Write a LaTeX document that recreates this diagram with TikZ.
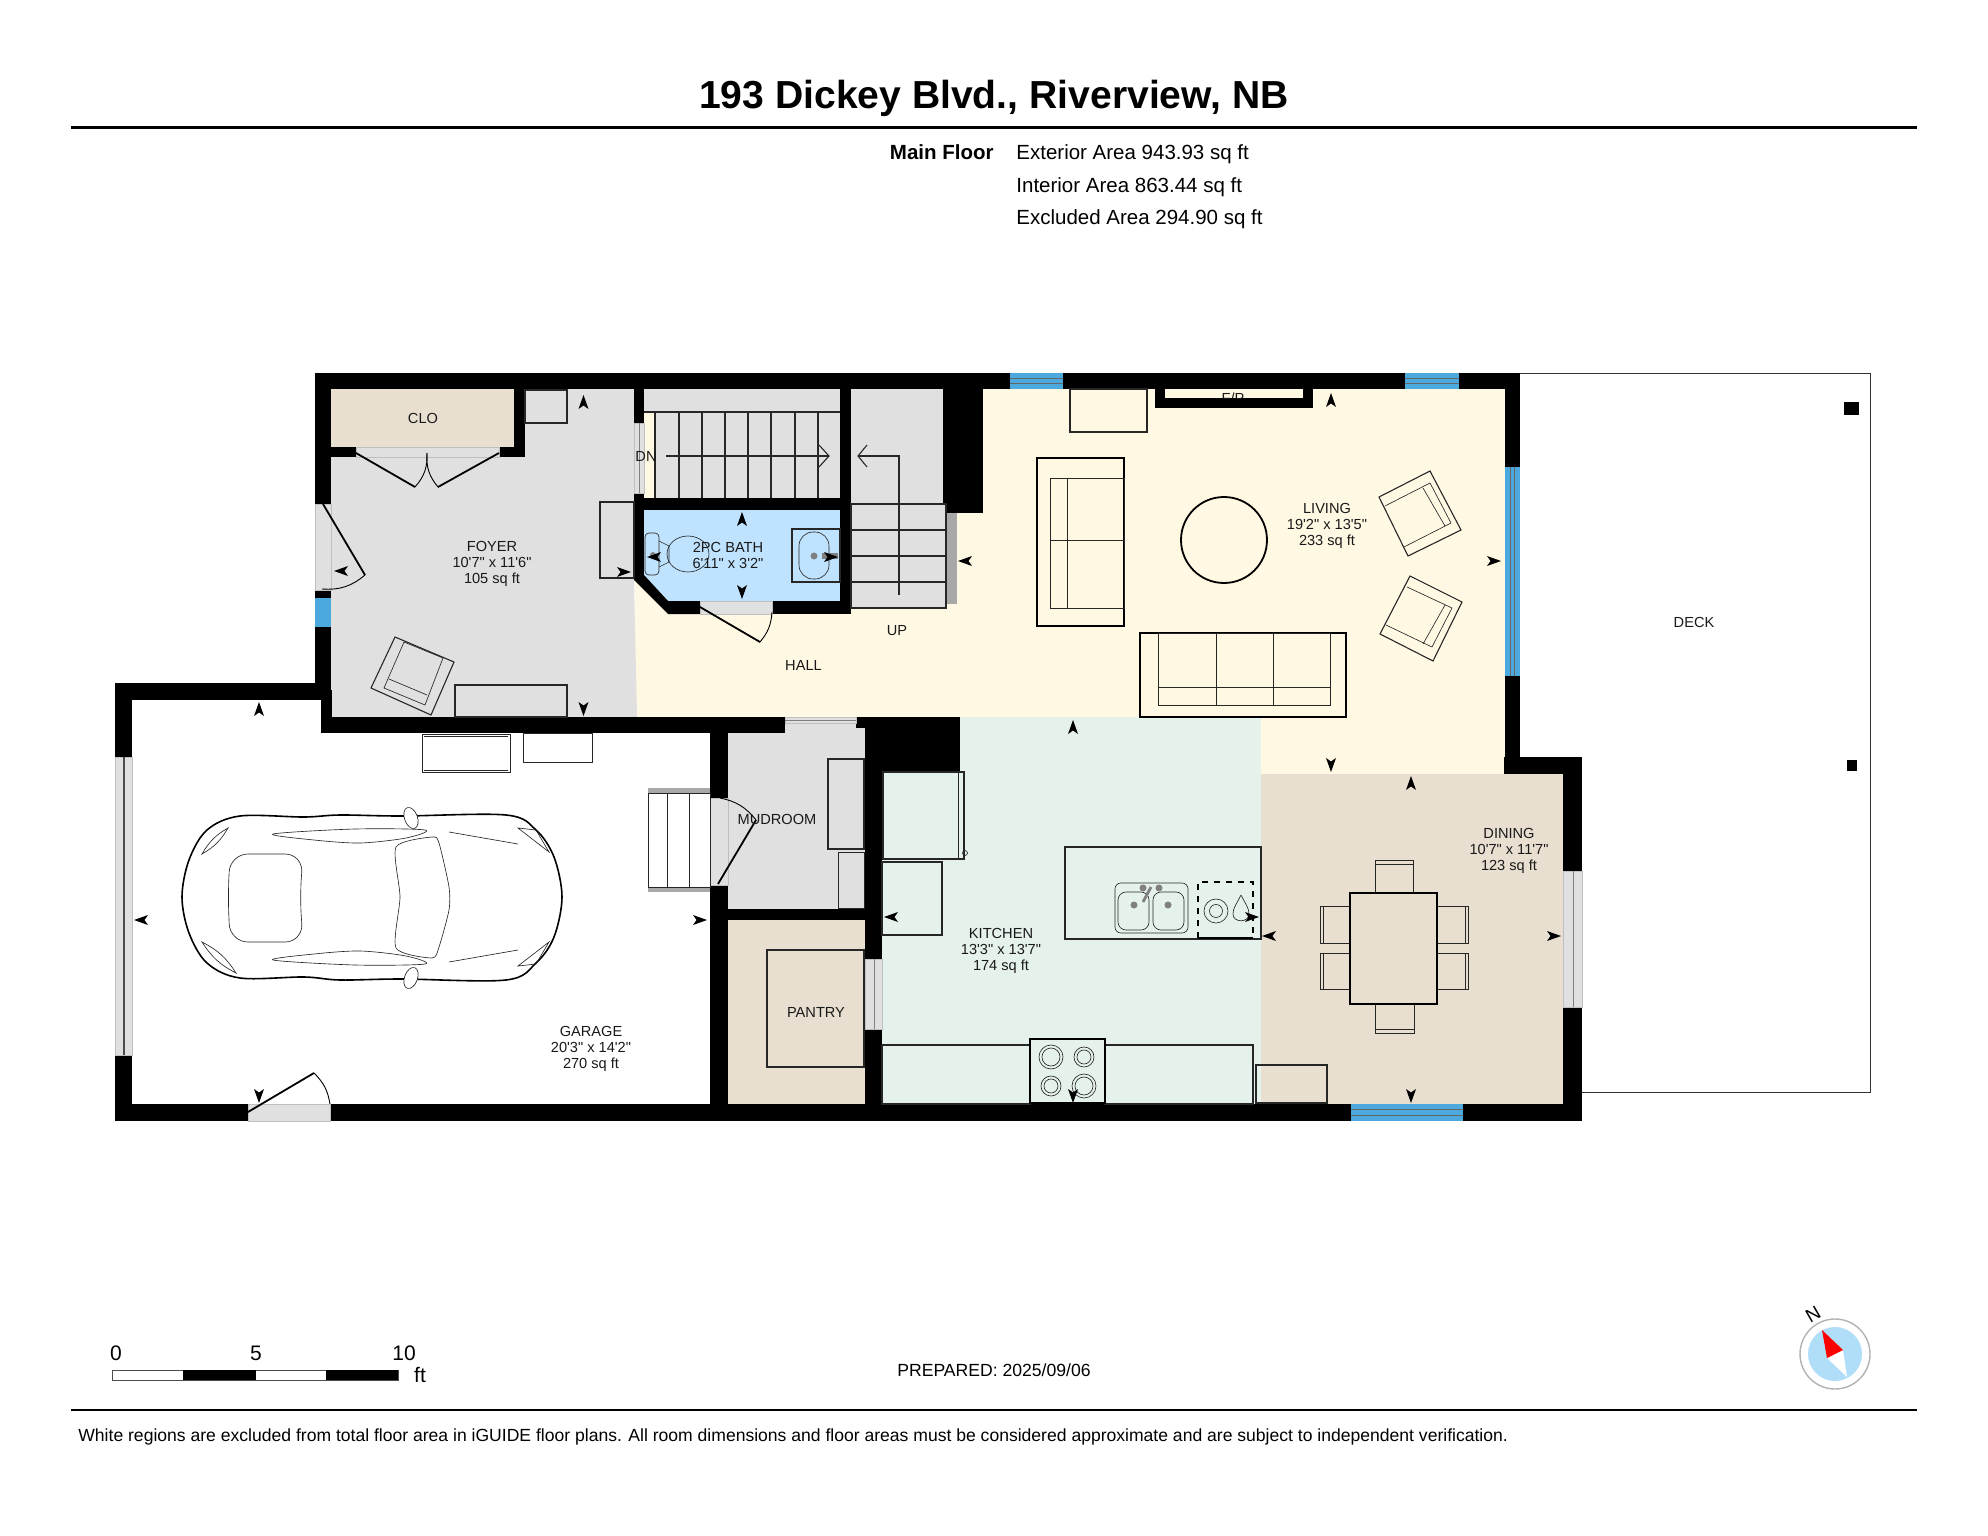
\documentclass[tikz,border=0pt]{standalone}
\usepackage{fontspec}
\setmainfont{Liberation Sans}
\newfontfamily\labfont[Ligatures=ResetAll]{Liberation Sans}
\definecolor{cfoyer}{HTML}{E0E0E0}
\definecolor{ccream}{HTML}{FFF8E3}
\definecolor{cbeige}{HTML}{E8DFD1}
\definecolor{ckit}{HTML}{E5F2EB}
\definecolor{cbath}{HTML}{BFE3FF}
\definecolor{ccomp}{HTML}{B0DDF8}
\definecolor{cwin}{HTML}{4BA9DD}
\definecolor{cstrip}{HTML}{A8A8A8}
\tikzset{
 wall/.style={fill=black},
 gapfill/.style={fill=cfoyer,draw=black!25,line width=.3pt},
 furn/.style={draw=black!85,line width=.55pt},
 fine/.style={draw=black!85,line width=.32pt},
 heavy/.style={draw=black,line width=.9pt},
 doorleaf/.style={draw=black,line width=.9pt},
 doorarc/.style={draw=black,line width=.45pt},
 lab/.style={font=\labfont\fontsize{7.3}{8}\selectfont,align=center,inner sep=0pt,text=black!90},
 info/.style={font=\fontsize{10.25}{11}\selectfont,inner sep=0pt},
}
\newcommand\mk[3]{\fill[black,shift={(#1,#2)},rotate=#3] (7,0)--(-7,5)--(-3.5,0)--(-7,-5)--cycle;}
\newcommand\winh[4]{\fill[cwin] (#1,#3) rectangle (#2,#4);
  \draw[black!60,line width=.3pt] (#1,{#3+(#4-#3)/3}) -- (#2,{#3+(#4-#3)/3}) (#1,{#3+2*(#4-#3)/3}) -- (#2,{#3+2*(#4-#3)/3});}
\begin{document}
\begin{tikzpicture}[x=.5pt,y=-.5pt]
\useasboundingbox[fill=white] (0,0) rectangle (1988,1536);
% header
\node[inner sep=0pt,font=\fontsize{19.55}{22}\selectfont\bfseries] (title) at (994,98) {193 Dickey Blvd., Riverview, NB};
\draw[line width=1.5pt] (71,127.5) -- (1917,127.5);
\node[info,anchor=base east,font=\fontsize{10.25}{11}\selectfont\bfseries] (mf) at (994,160) {Main Floor};
\node[info,anchor=base west] (ext) at (1016,160) {Exterior Area 943.93 sq ft};
\node[info,anchor=base west] (intr) at (1016,192) {Interior Area 863.44 sq ft};
\node[info,anchor=base west] (excl) at (1016,224) {Excluded Area 294.90 sq ft};
% floors
\fill[ccream] (635,389) rectangle (1505,717);
\fill[ccream] (1261,717) rectangle (1505,775);
\fill[cfoyer] (331,389) -- (634,389) -- (634,580) -- (637,717) -- (331,717) -- cycle;
\fill[cbeige] (331,389) rectangle (514,447);
\fill[cfoyer] (851,389) rectangle (943,504);
\fill[cfoyer] (644,389) rectangle (840,412);
\fill[cfoyer] (655,412) rectangle (840,498);
\fill[cbath] (644,510) -- (840,510) -- (840,601) -- (668,601) -- (644,575) -- cycle;
\fill[cfoyer] (728,723) rectangle (865,909);
\fill[cbeige] (728,920) rectangle (865,1104);
\fill[ckit] (882,717) rectangle (1261,1104);
\fill[cbeige] (1261,774) rectangle (1563,1104);
% deck
\draw[line width=.4pt,black!80] (1520,373) -- (1870,373) -- (1870,1092) -- (1582,1092);
\fill (1844,402) rectangle (1859,415);
\fill (1847,760) rectangle (1857,771);
\node[lab] (deck) at (1694,622) {DECK};
% walls
\fill[wall] (315,373) rectangle (1520,389);
\fill[wall] (315,373) rectangle (331,504);
\fill[wall] (315,590) rectangle (331,700);
\fill[wall] (321,690) rectangle (332,733);
\fill[wall] (115,683) rectangle (321,700);
\fill[wall] (115,683) rectangle (132,757);
\fill[wall] (115,1055) rectangle (132,1121);
\fill[wall] (115,1104) rectangle (248,1121);
\fill[wall] (330,1104) rectangle (1582,1121);
\fill[wall] (321,717) rectangle (785,733);
\fill[wall] (710,733) rectangle (728,798);
\fill[wall] (710,885) rectangle (728,1104);
\fill[wall] (728,909) rectangle (865,920);
\fill[wall] (865,717) rectangle (882,959);
\fill[wall] (865,1029) rectangle (882,1104);
\fill[wall] (865,717) rectangle (960,771);
\fill[wall] (856,717) rectangle (865,728);
\fill[wall] (1505,373) rectangle (1520,467);
\fill[wall] (1505,676) rectangle (1520,774);
\fill[wall] (1504,757) rectangle (1582,774);
\fill[wall] (1563,757) rectangle (1582,871);
\fill[wall] (1563,1007) rectangle (1582,1121);
\fill[wall] (943,389) rectangle (983,513);
\fill[wall] (514,389) rectangle (525,457);
\fill[wall] (331,447) rectangle (356,457);
\fill[wall] (499,447) rectangle (525,457);
\fill[wall] (634,389) rectangle (644,423);
\fill[wall] (634,493) rectangle (644,580);
\fill[wall] (634,498) rectangle (851,510);
\fill[wall] (840,389) rectangle (851,510);
\fill[wall] (634,575) -- (644,575) -- (668,601) -- (700,601) -- (700,614) -- (668,614) -- (634,580) -- cycle;
\fill[wall] (772,601) rectangle (851,614);
\fill[wall] (840,510) rectangle (851,614);
% fireplace
\fill[wall] (1155,389) rectangle (1313,408);
\fill[ccream] (1165,389) rectangle (1303,398);
\begin{scope}
\clip (1165,389) rectangle (1303,398);
\node[lab] (fp) at (1233,398) {F/P};
\end{scope}
% windows
\fill[cwin] (315,598) rectangle (331,627);
\winh{1010}{1063}{373}{389}
\winh{1405}{1459}{373}{389}
\winh{1351}{1463}{1104}{1121}
\fill[cwin] (1505,467) rectangle (1520,676);
\draw[black!60,line width=.3pt] (1510,467) -- (1510,676) (1514,467) -- (1514,676);
% door gaps and sliders
\fill[gapfill] (315,504) rectangle (331,590);
\fill[gapfill] (356,447) rectangle (499,457);
\fill[gapfill] (634,423) rectangle (644,493);
\draw[line width=.3pt,black!50] (639,423) -- (639,493);
\fill[gapfill] (700,601) rectangle (772,614);
\fill[gapfill] (248,1104) rectangle (330,1121);
\fill[gapfill] (710,798) rectangle (728,885);
\fill[gapfill] (785,717) rectangle (856,723);
\draw[line width=.3pt,black!50] (785,720) -- (856,720);
\fill[gapfill] (865,959) rectangle (882,1029);
\draw[line width=.3pt,black!50] (874,959) -- (874,1029);
\fill[gapfill] (115,757) rectangle (132,1055);
\draw[line width=.6pt,black!70] (124,757) -- (124,1055);
\fill[gapfill] (1563,871) rectangle (1582,1007);
\draw[line width=.3pt,black!50] (1573,871) -- (1573,1007);
% doors
\draw[doorleaf] (323,504) -- (365,575);
\draw[doorarc] (365,575) to[bend left=22] (322,589);
\draw[doorleaf] (356,453) -- (415,487);
\draw[doorarc] (415,487) to[bend right=22] (427,453);
\draw[doorarc] (427,453) to[bend right=22] (438,487);
\draw[doorleaf] (438,487) -- (499,453);
\draw[doorleaf] (700,607) -- (760,642);
\draw[doorarc] (760,642) to[bend right=18] (772,612);
\draw[doorleaf] (248,1112) -- (314,1073);
\draw[doorarc] (314,1073) to[bend left=18] (330,1104);
\draw[doorleaf] (718,884) -- (756,820);
\draw[doorarc] (756,820) to[bend right=20] (720,798);
% foyer furniture
\draw[furn] (525,390) rectangle (567,423);
\draw[furn] (455,685) rectangle (567,717);
\draw[furn] (600,502) rectangle (634,578);
\draw[furn] (395,637) -- (454,662) -- (431,715) -- (371,688) -- cycle;
\draw[fine] (404,642) -- (443,658) -- (425,705) -- (384,688) -- cycle (389,679) -- (427,695);
% DN stairs
\draw[furn] (644,412) -- (840,412);
\foreach \s in {655,679,702,725,748,771,795,818}{\draw[furn] (\s,412) -- (\s,498);}
\draw[furn] (666,456) -- (829,456);
\draw[furn] (819,445) -- (829,456) -- (819,467);
% UP stairs
\fill[cstrip] (946,513) rectangle (957,604);
\fill[cfoyer] (851,504) rectangle (946,608);
\draw[furn] (851,504) rectangle (946,608);
\draw[furn] (851,530) -- (946,530) (851,556) -- (946,556) (851,582) -- (946,582);
\draw[furn] (899,595) -- (899,456) -- (858,456);
\draw[furn] (867,445) -- (858,456) -- (867,467);
% bath fixtures
\draw[fine,rounded corners=2pt] (645,533) rectangle (659,575);
\draw[fine] (688,554) ellipse (21 and 18);
\draw[fine] (659,541) -- (669,546) -- (669,562) -- (659,567);
\fill[gray] (653,555) circle (3);
\draw[furn] (792,529) rectangle (840,582);
\draw[fine,rounded corners=7pt] (799,532) rectangle (829,579);
\fill[gray] (814,556) circle (3.5);
\fill[gray] (822,553) rectangle (838,559);
% car and garage furniture
\draw[fine] (422,734) rectangle (510,772);
\draw[fine] (424,736) -- (508,736) (424,770) -- (508,770);
\draw[fine] (523,733) rectangle (592,762);
\fill[cstrip] (648,788) rectangle (710,794);
\fill[cstrip] (648,886) rectangle (710,892);
\draw[fine,fill=white] (648,793) rectangle (710,887);
\draw[fine] (667,793) -- (667,887) (689,793) -- (689,887);
\draw[line width=.8pt] plot[smooth cycle,tension=.55] coordinates {(240,816) (304,817) (340,815) (401,816) (506,815) (536,830) (554,857) (562,897) (554,937) (536,963) (506,980) (401,979) (340,980) (304,977) (240,978) (207,963) (189,933) (182,897) (189,860) (207,830)};
\draw[fill=white,fine,rotate around={20:(411,818)}] (411,818) ellipse (6.5 and 11);
\draw[fill=white,fine,rotate around={-20:(411,978)}] (411,978) ellipse (6.5 and 11);
\draw[fine,rounded corners=9pt] (230,854) -- (303,854) -- (300,897) -- (303,942) -- (230,942) -- (228,897) -- cycle;
\draw[fine] plot[smooth cycle,tension=.4] coordinates {(396,847) (432,837) (439,843) (449,887) (449,910) (439,947) (432,958) (396,948) (400,897)};
\draw[fine] plot[smooth cycle,tension=.5] coordinates {(273,834) (355,829) (425,830) (406,838) (360,843) (314,840)};
\draw[fine] plot[smooth cycle,tension=.5] coordinates {(273,960) (355,965) (425,964) (406,956) (360,951) (314,954)};
\draw[fine] (449,832) -- (518,844) (449,962) -- (518,950);
\draw[fine] (518,828) -- (536,830) -- (549,852) -- cycle;
\draw[fine] (518,966) -- (536,964) -- (549,942) -- cycle;
\draw[fine] (228,828) to[bend right=15] (202,854) to[bend right=15] cycle;
\draw[fine] (202,942) to[bend right=15] (236,973) to[bend right=15] cycle;
% mudroom, pantry
\draw[furn] (828,759) rectangle (864,849);
\draw[fine] (838,852) rectangle (864,908);
\draw[furn] (767,950) rectangle (864,1067);
% living furniture
\draw[furn] (1070,389) rectangle (1147,432);
\draw[heavy] (1037,458) rectangle (1124,626);
\draw[fine] (1050,478) rectangle (1124,608);
\draw[fine] (1067,478) -- (1067,608) (1050,540) -- (1124,540);
\draw[heavy] (1224,540) circle (43);
\draw[heavy] (1140,633) rectangle (1346,717);
\draw[fine] (1158,633) rectangle (1330,705);
\draw[fine] (1216,633) -- (1216,705) (1273,633) -- (1273,705) (1158,687) -- (1330,687);
\draw[furn] (1430,471) -- (1461,530) -- (1408,556) -- (1379,497) -- cycle;
\draw[fine] (1385,506) -- (1430,483) -- (1451,523) -- (1404,547) (1423,488) -- (1445,526);
\draw[furn] (1410,576) -- (1462,602) -- (1433,661) -- (1380,634) -- cycle;
\draw[fine] (1407,587) -- (1452,608) -- (1432,647) -- (1386,625) (1445,605) -- (1423,644);
% kitchen
\draw[furn] (883,772) rectangle (964,859);
\draw[fine] (958,772) -- (958,859);
\draw[fine] (965,853) circle (2.5);
\draw[furn] (882,862) rectangle (942,935);
\draw[furn] (1065,847) rectangle (1261,939);
\draw[fine,rounded corners=3pt] (1115,883) rectangle (1188,933);
\draw[fine,rounded corners=4pt] (1118,892) rectangle (1149,930);
\draw[fine,rounded corners=4pt] (1153,892) rectangle (1184,930);
\fill[gray] (1134,905) circle (3.5) (1168,905) circle (3.5);
\fill[gray] (1143,888) circle (3.5) (1159,888) circle (3.5);
\draw[gray,line width=1.4pt] (1151,887) -- (1143,902);
\draw[line width=.8pt,dashed] (1198,938) -- (1198,882) -- (1253,882) -- (1253,938);
\draw[line width=1.4pt] (1198,938) -- (1253,938);
\draw[fine] (1216,911) circle (12) (1216,911) circle (6.5);
\draw[fine] (1241,895) .. controls (1236,905) and (1233,908) .. (1233,914) .. controls (1233,923) and (1249,923) .. (1249,914) .. controls (1249,908) and (1246,905) .. (1241,895);
\draw[furn] (882,1045) rectangle (1030,1104);
\draw[furn] (1105,1045) rectangle (1253,1104);
\draw[heavy,fill=ckit] (1030,1039) rectangle (1105,1103);
\draw[fine] (1051,1057) circle (12) (1051,1057) circle (9) (1084,1057) circle (10) (1084,1057) circle (7);
\draw[fine] (1051,1086) circle (10) (1051,1086) circle (7) (1084,1086) circle (12) (1084,1086) circle (9);
\draw[furn] (1256,1065) rectangle (1327,1103);
% dining
\draw[fine] (1375,860) rectangle (1413,893) (1375,864) -- (1413,864);
\draw[fine] (1375,1004) rectangle (1414,1033) (1375,1029) -- (1414,1029);
\draw[fine] (1320,906) rectangle (1350,943) (1323,906) -- (1323,943);
\draw[fine] (1320,953) rectangle (1350,989) (1323,953) -- (1323,989);
\draw[fine] (1437,906) rectangle (1468,943) (1465,906) -- (1465,943);
\draw[fine] (1437,953) rectangle (1468,989) (1465,953) -- (1465,989);
\draw[heavy] (1350,893) rectangle (1437,1004);
% arrow marks
\mk{583.5}{402}{90}\mk{583.5}{709}{270}\mk{341}{571}{180}\mk{624}{572}{0}
\mk{742}{519}{90}\mk{742}{592}{270}\mk{654}{557}{180}\mk{831}{557}{0}
\mk{965}{561}{180}\mk{1331}{400}{90}\mk{1494}{561}{0}\mk{1331}{765}{270}
\mk{1073}{727}{90}\mk{891}{917}{180}\mk{1252}{917}{0}\mk{1073}{1096}{270}
\mk{1411}{783}{90}\mk{1269}{936}{180}\mk{1554}{936}{0}\mk{1411}{1096}{270}
\mk{259}{709}{90}\mk{259}{1096}{270}\mk{141}{920}{180}\mk{700}{920}{0}
% labels
\node[lab] (clo) at (423,418) {CLO};
\node[lab] (foyer) at (492,564) {FOYER\\10'7" x 11'6"\\105 sq ft};
\node[lab] (dn) at (646,456) {DN};
\node[lab] (bath) at (728,555) {2PC BATH\\6'11" x 3'2"};
\node[lab] (up) at (897,631) {UP};
\node[lab] (hall) at (803.5,665) {HALL};
\node[lab] (living) at (1327,526) {LIVING\\19'2" x 13'5"\\233 sq ft};
\node[lab] (mud) at (777,819) {MUDROOM};
\node[lab] (pantry) at (816,1012) {PANTRY};
\node[lab] (garage) at (591,1049) {GARAGE\\20'3" x 14'2"\\270 sq ft};
\node[lab] (kitchen) at (1001,951) {KITCHEN\\13'3" x 13'7"\\174 sq ft};
\node[lab] (dining) at (1509,851) {DINING\\10'7" x 11'7"\\123 sq ft};
% scale bar
\draw[black!70,line width=.4pt,fill=white] (112,1370) rectangle (398,1380);
\fill (183,1370) rectangle (256,1380);
\fill (326,1370) rectangle (398,1380);
\node[inner sep=0pt,font=\fontsize{10.5}{12}\selectfont] (s0) at (116,1353) {0};
\node[inner sep=0pt,font=\fontsize{10.5}{12}\selectfont] (s5) at (256,1353) {5};
\node[inner sep=0pt,font=\fontsize{10.5}{12}\selectfont] (s10) at (404,1353) {10};
\node[inner sep=0pt,font=\fontsize{10.5}{12}\selectfont] (sft) at (420,1375) {ft};
% prepared
\node[inner sep=0pt,font=\fontsize{8.8}{10}\selectfont] (prep) at (994,1370) {PREPARED: 2025/09/06};
% compass
\draw[black!30,line width=.7pt,fill=white] (1835,1354) circle (35);
\fill[ccomp] (1835,1354) circle (27);
\fill[white] (1843,1350) -- (1847,1377) -- (1827,1358) -- cycle;
\fill[red] (1822,1330) -- (1843,1350) -- (1827,1358) -- cycle;
\node[inner sep=0pt,rotate=30,font=\fontsize{9.5}{10}\selectfont] (north) at (1813,1314) {N};
% footer
\draw[line width=1.3pt] (71,1410) -- (1917,1410);
\node[inner sep=0pt,anchor=west,font=\fontsize{8.78}{10}\selectfont] (foot) at (78,1437) {White regions are excluded from total floor area in iGUIDE floor plans. All room dimensions and floor areas must be considered approximate and are subject to independent verification.};
\end{tikzpicture}
\end{document}
